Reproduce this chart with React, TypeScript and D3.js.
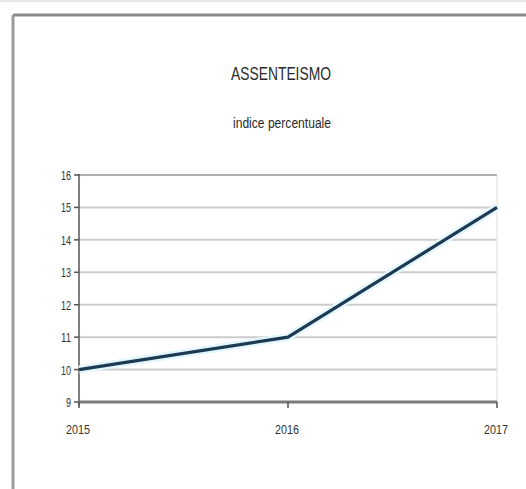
import React from "react";
import * as d3 from "d3";

const years = ["2015", "2016", "2017"];
const values = [10, 11, 15];
const yTicks = [9, 10, 11, 12, 13, 14, 15, 16];
const title = "ASSENTEISMO";
const subtitle = "indice percentuale";

const W = 526;
const H = 489;
const font = "'Liberation Sans Narrow', 'Arial Narrow', 'Liberation Sans', Arial, sans-serif";

export default function App() {
  const x = d3.scalePoint<string>().domain(years).range([79, 497]);
  const y = d3.scaleLinear().domain([9, 16]).range([402, 175]);
  const line = d3
    .line<number>()
    .x((_, i) => x(years[i]) as number)
    .y((d) => y(d));
  const path = line(values) || "";
  const x0 = 79;
  const x1 = 497;

  return (
    <svg
      width={W}
      height={H}
      style={{ position: "absolute", left: 0, top: 0, background: "#fff" }}
    >
      <rect x={0} y={0} width={W} height={H} fill="#fff" />
      {/* faint outer frame */}
      <line x1={0} y1={1} x2={W} y2={1} stroke="#e8e8e8" strokeWidth={2} />
      {/* main frame */}
      <line x1={13} y1={15} x2={W} y2={15} stroke="#8a8a8a" strokeWidth={3} />
      <line x1={13} y1={15} x2={13} y2={H} stroke="#9a9a9a" strokeWidth={3} />

      <text
        x={281}
        y={80}
        textAnchor="middle"
        fontFamily={font}
        fontSize={19}
        fill="#2a2a2a"
        textLength={100}
        lengthAdjust="spacingAndGlyphs"
      >
        {title}
      </text>
      <text
        x={282}
        y={128}
        textAnchor="middle"
        fontFamily={font}
        fontSize={14}
        fill="#2a2a2a"
        textLength={98}
        lengthAdjust="spacingAndGlyphs"
      >
        {subtitle}
      </text>

      {/* gridlines */}
      {yTicks.slice(1).map((t) => (
        <line
          key={t}
          x1={x0}
          x2={x1}
          y1={y(t)}
          y2={y(t)}
          stroke={t === 16 ? "#b0b0b0" : "#cccccc"}
          strokeWidth={2}
        />
      ))}
      {/* right border of plot */}
      <line x1={x1} x2={x1} y1={y(16)} y2={y(9)} stroke="#dddddd" strokeWidth={1} />

      {/* y axis */}
      <line x1={x0} x2={x0} y1={y(16) - 1} y2={y(9) + 4} stroke="#555" strokeWidth={1.5} />
      {yTicks.map((t) => (
        <g key={t}>
          <line x1={x0 - 5} x2={x0} y1={y(t)} y2={y(t)} stroke="#555" strokeWidth={1.5} />
          <text
            x={x0 - 8}
            y={y(t) + 5}
            textAnchor="end"
            fontFamily={font}
            fontSize={13}
            fill="#333"
            textLength={String(t).length * 5}
            lengthAdjust="spacingAndGlyphs"
          >
            {t}
          </text>
        </g>
      ))}

      {/* x axis */}
      <line x1={x0} x2={x1} y1={y(9)} y2={y(9)} stroke="#7a7a7a" strokeWidth={3} />
      {years.map((yr) => (
        <g key={yr}>
          <line
            x1={x(yr) as number}
            x2={x(yr) as number}
            y1={y(9)}
            y2={y(9) + 6}
            stroke="#555"
            strokeWidth={1.5}
          />
          <text
            x={(x(yr) as number) - 1}
            y={434}
            textAnchor="middle"
            fontFamily={font}
            fontSize={13}
            fill="#333"
            textLength={24}
            lengthAdjust="spacingAndGlyphs"
          >
            {yr}
          </text>
        </g>
      ))}

      {/* line halo + line */}
      <path d={path} fill="none" stroke="#e3f6fc" strokeWidth={8} strokeLinejoin="round" />
      <path d={path} fill="none" stroke="#1e3a52" strokeWidth={3.2} strokeLinejoin="round" />
    </svg>
  );
}
